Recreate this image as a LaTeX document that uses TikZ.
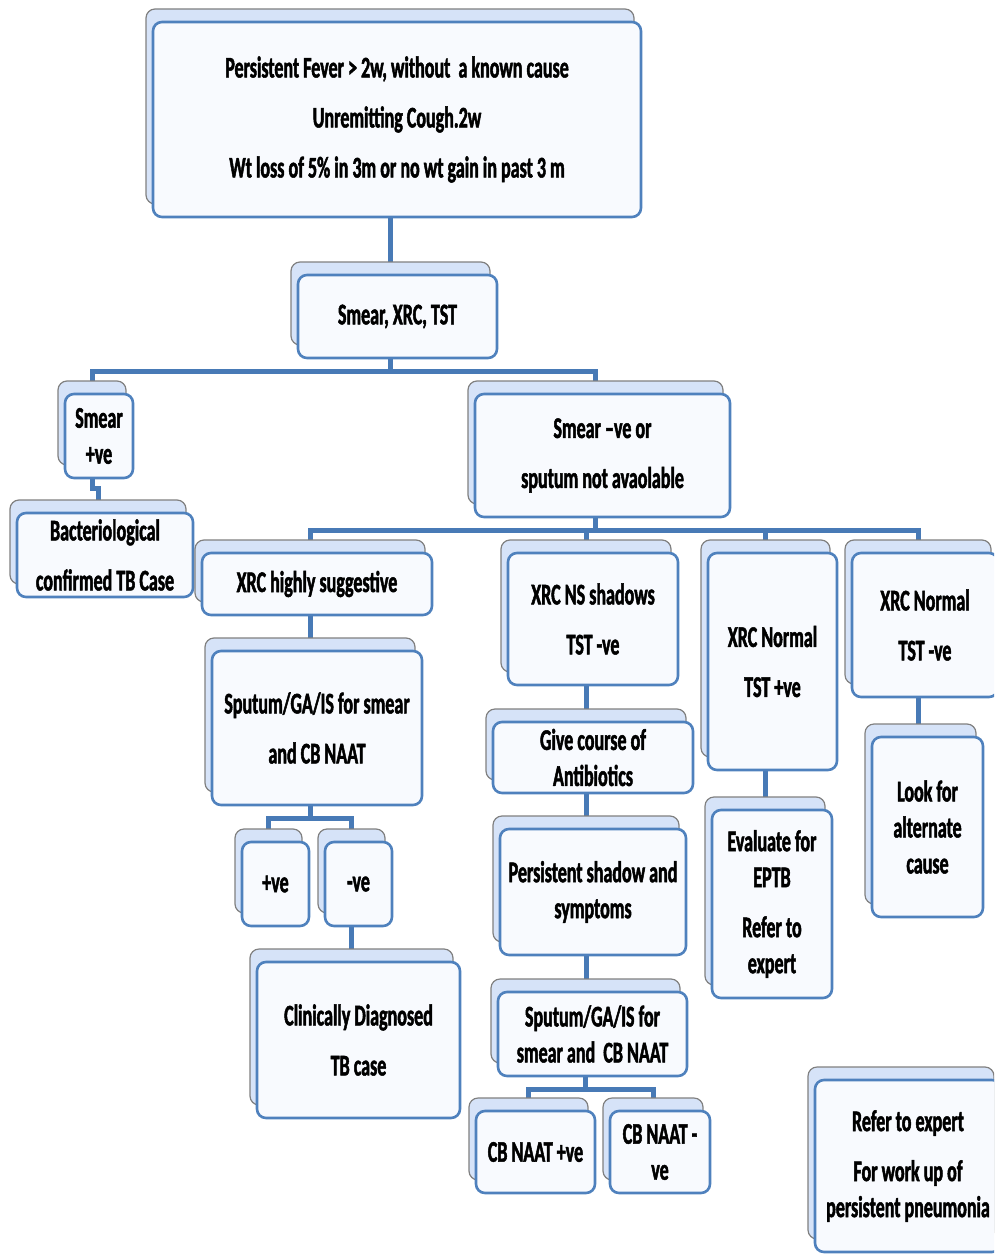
\documentclass[tikz,border=0pt]{standalone}
\usepackage{fontspec}
\newfontfamily\boxfont[FakeStretch=0.6, BoldFeatures={FakeBold=1.6}]{Carlito}
\usetikzlibrary{shadows}
\definecolor{boxblue}{RGB}{79,129,189}
\definecolor{connblue}{RGB}{72,122,182}
\definecolor{backfill}{RGB}{214,227,248}
\definecolor{backdraw}{RGB}{128,128,128}
\definecolor{frontfill}{RGB}{248,250,254}
\pgfdeclarelayer{background}
\pgfsetlayers{background,main}
\begin{document}
\begin{tikzpicture}[x=1pt,y=-1pt,
  flow/.style={draw=boxblue, line width=2.6pt, fill=frontfill, rounded corners=9pt,
    inner sep=0pt, align=center, text=black,
    font=\boxfont\bfseries\fontsize{30}{36}\selectfont,
    copy shadow={shadow xshift=-7pt, shadow yshift=13pt, fill=backfill,
      draw=backdraw, line width=1.2pt}},
  sz/.style 2 args={minimum width=#1pt, minimum height=#2pt},
  conn/.style={draw=connblue, line width=5pt}]
\useasboundingbox (0,0) rectangle (994,1260);
\clip (0,0) rectangle (994,1260);

% first level
\node[flow, sz={488}{195}] (top) at (397,119.5)
  {Persistent Fever > 2w, without\ \ a known cause\\[14pt]
   Unremitting Cough.2w\\[14pt]
   Wt loss of 5\% in 3m or no wt gain in past 3 m};
\node[flow, sz={199}{83}] (sxt) at (397.5,316.5) {Smear, XRC, TST};

% smear results
\node[flow, sz={68}{84}] (spos) at (99,436) {Smear\\+ve};
\node[flow, sz={176}{84}] (bact) at (105,555) {Bacteriological\\[14pt]confirmed TB Case};
\node[flow, sz={255}{123}] (sneg) at (602.5,455.5) {Smear –ve or\\[14pt]sputum not avaolable};

% x-ray branches
\node[flow, sz={230}{62}] (xhs) at (317,584) {XRC highly suggestive};
\node[flow, sz={210}{154}] (sput1) at (317,728) {Sputum/GA/IS for smear\\[14pt]and CB NAAT};
\node[flow, sz={67}{84}] (ppos) at (275.5,884) {+ve};
\node[flow, sz={67}{84}] (pneg) at (358.5,884) {-ve};
\node[flow, sz={203}{156}] (clin) at (358.5,1040) {Clinically Diagnosed\\[14pt]TB case};

\node[flow, sz={170}{132}] (xns) at (593,619) {XRC NS shadows\\[14pt]TST -ve};
\node[flow, sz={200}{71}] (give) at (593,757.5) {Give course of\\Antibiotics};
\node[flow, sz={186}{126}] (pers) at (593,892) {Persistent shadow and\\symptoms};
\node[flow, sz={189}{84}] (sput2) at (592.5,1034) {Sputum/GA/IS for\\smear and\ \ CB NAAT};
\node[flow, sz={119}{82}] (cbp) at (535.5,1152) {CB NAAT +ve};
\node[flow, sz={100}{82}] (cbn) at (660,1152) {CB NAAT -\\ve};

\node[flow, sz={129}{217}] (xnp) at (772.5,661.5) {XRC Normal\\[14pt]TST +ve};
\node[flow, sz={120}{188}] (eval) at (772,904) {Evaluate for\\EPTB\\[14pt]Refer to\\expert};

\node[flow, sz={146}{144}] (xnn) at (925,625) {XRC Normal\\[14pt]TST -ve};
\node[flow, sz={111}{180}] (look) at (927.5,827) {Look for\\alternate\\cause};

\node[flow, sz={186}{172}] (refer) at (908,1166) {Refer to expert\\[14pt]For work up of\\persistent pneumonia};

% connectors, kept vertical from the upper box
\begin{pgfonlayer}{background}
\draw[conn] ([xshift=-7pt]top.south) -- ([xshift=-7pt]top.south |- sxt.north);
\draw[conn] ([xshift=-7pt]sxt.south) -- ++(0,12) -| ([xshift=-7pt]spos.north);
\draw[conn] ([xshift=-7pt]sxt.south) -- ++(0,12) -| ([xshift=-7pt]sneg.north);
\draw[conn] ([xshift=-7pt]spos.south) -- ++(0,9) -| ([xshift=-7pt]bact.north);
\draw[conn] ([xshift=-7pt]sneg.south) -- ++(0,12) -| ([xshift=-7pt]xhs.north);
\draw[conn] ([xshift=-7pt]sneg.south) -- ++(0,12) -| ([xshift=-7pt]xns.north);
\draw[conn] ([xshift=-7pt]sneg.south) -- ++(0,12) -| ([xshift=-7pt]xnp.north);
\draw[conn] ([xshift=-7pt]sneg.south) -- ++(0,12) -| ([xshift=-7pt]xnn.north);
\draw[conn] ([xshift=-7pt]xhs.south) -- ([xshift=-7pt]xhs.south |- sput1.north);
\draw[conn] ([xshift=-7pt]sput1.south) -- ++(0,12) -| ([xshift=-7pt]ppos.north);
\draw[conn] ([xshift=-7pt]sput1.south) -- ++(0,12) -| ([xshift=-7pt]pneg.north);
\draw[conn] ([xshift=-7pt]pneg.south) -- ([xshift=-7pt]pneg.south |- clin.north);
\draw[conn] ([xshift=-7pt]xns.south) -- ([xshift=-7pt]xns.south |- give.north);
\draw[conn] ([xshift=-7pt]give.south) -- ([xshift=-7pt]give.south |- pers.north);
\draw[conn] ([xshift=-7pt]pers.south) -- ([xshift=-7pt]pers.south |- sput2.north);
\draw[conn] ([xshift=-7pt]sput2.south) -- ++(0,12) -| ([xshift=-7pt]cbp.north);
\draw[conn] ([xshift=-7pt]sput2.south) -- ++(0,12) -| ([xshift=-7pt]cbn.north);
\draw[conn] ([xshift=-7pt]xnp.south) -- ([xshift=-7pt]xnp.south |- eval.north);
\draw[conn] ([xshift=-7pt]xnn.south) -- ([xshift=-7pt]xnn.south |- look.north);
\end{pgfonlayer}
\end{tikzpicture}
\end{document}
